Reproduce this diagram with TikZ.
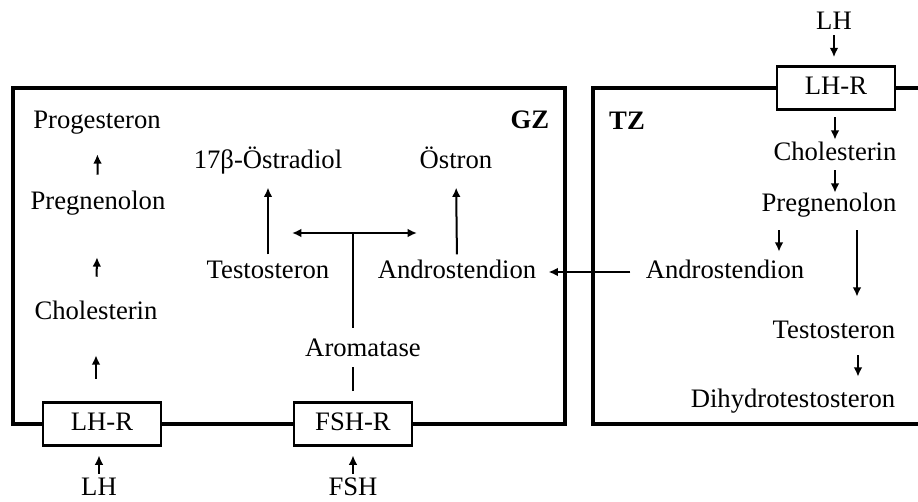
\documentclass[tikz,border=0pt]{standalone}
\usepackage{fontspec}
\setmainfont{Liberation Serif}
\usetikzlibrary{arrows.meta,positioning,calc}
\tikzset{
  txt/.style={inner sep=0pt, text height=14pt, text depth=4pt,
              font=\fontsize{20}{24}\selectfont},
  zone/.style={txt, font=\fontsize{20}{24}\selectfont\bfseries},
  recep/.style={txt, draw, line width=2.2pt, fill=white,
                minimum width=88.5pt, minimum height=32pt},
  wall/.style={line width=3pt},
  flow/.style={->, >={Latex[length=7pt,width=6.5pt]}, line width=1.5pt},
  bar/.style={line width=1.5pt},
}

\begin{document}
\begin{tikzpicture}[x=0.75pt, y=-0.75pt]
  \useasboundingbox (0,0) rectangle (918,502);
  % granulosa zone
  \node[txt] (gzProg) at (97,122) {Progesteron};
  \node[txt] (gzPreg) at (98,203) {Pregnenolon};
  \node[txt] (gzChol) at (96,313) {Cholesterin};
  \node[recep] (gzLHR) at (102,424) {LH-R};
  \node[txt, text depth=0pt] (gzLH) at (99,486) {LH};
  \node[recep] (gzFSHR) at (353,424) {FSH-R};
  \node[txt, text depth=0pt] (gzFSH) at (353,486) {FSH};
  \node[txt] (gzArom) at (363,350) {Aromatase};
  \node[txt] (gzTest) at (268,272) {Testosteron};
  \node[txt] (gzAndro) at (457,272) {Androstendion};
  \node[txt] (gzOest) at (268,162) {17β-Östradiol};
  \node[txt] (gzOestron) at (456,162) {Östron};
  \node[zone] (gzLabel) at (530,122) {GZ};
  \coordinate (gzJct) at (353,233);
  \coordinate (gzJctL) at (292,233);
  \coordinate (gzJctR) at (417,233);
  \draw[wall] (gzLHR.west) -| (13,88) -| (565,424) -- (gzFSHR.east);
  \draw[wall] (gzLHR.east) -- (gzFSHR.west);
  \draw[flow, shorten <=12pt, shorten >=15pt] (gzPreg.north) -- (gzProg.south);
  \draw[flow, shorten <=18pt, shorten >=31.5pt] (gzChol.north) -- (gzPreg.south);
  \draw[flow, shorten <=17pt, shorten >=22.5pt] (gzChol.south |- gzLHR.north) -- (gzChol.south);
  \draw[flow, shorten <=2pt, shorten >=6.5pt] (gzLH.north) -- (gzLH.north |- gzLHR.south);
  \draw[flow, shorten <=2pt, shorten >=6.5pt] (gzFSH.north) -- (gzFSHR.south);
  \draw[flow, shorten <=4pt, shorten >=10pt] (gzTest.north) -- (gzOest.south);
  \draw[flow, shorten <=4pt, shorten >=10pt] (gzAndro.north) -- (gzOestron.south);
  \draw[flow, <->] (gzJctL) -- (gzJctR);
  \draw[bar, shorten >=7.5pt] (gzJct) -- (gzJct |- gzArom.north);
  \draw[bar, shorten <=7.5pt, shorten >=3.75pt] (gzFSHR.north) -- (gzFSHR.north |- gzArom.south);
  % theca zone
  \node[txt] (tzLH) at (834,23) {LH};
  \node[recep] (tzLHR) at (836,88) {LH-R};
  \node[txt] (tzChol) at (835,154) {Cholesterin};
  \node[txt] (tzPreg) at (829,205) {Pregnenolon};
  \node[txt] (tzAndro) at (725,272) {Androstendion};
  \node[txt] (tzTest) at (834,332) {Testosteron};
  \node[txt] (tzDHT) at (793,401) {Dihydrotestosteron};
  \node[zone] (tzLabel) at (627,123) {TZ};
  \draw[wall] (tzLHR.west) -| (593,424) -- (918,424);
  \draw[wall] (tzLHR.east) -- (918,88);
  \draw[flow, shorten >=6pt] (tzLH.south) -- (tzLH.south |- tzLHR.north);
  \draw[flow, shorten <=5pt, shorten >=1.5pt] (tzChol.north |- tzLHR.south) -- (tzChol.north);
  \draw[flow, shorten <=3pt] (tzChol.south) -- (tzChol.south |- tzPreg.north);
  \draw[flow, shorten <=9.75pt, shorten >=6pt] ([xshift=-37.5pt]tzPreg.south) -- ([xshift=-37.5pt]tzPreg.south |- tzAndro.north);
  \draw[flow, shorten <=9.75pt, shorten >=17.25pt] ([xshift=21pt]tzPreg.south) -- ([xshift=21pt]tzPreg.south |- tzTest.north);
  \draw[flow, shorten <=8.25pt, shorten >=9pt] ([xshift=18pt]tzTest.south) -- ([xshift=18pt]tzTest.south |- tzDHT.north);
  \draw[flow, shorten <=11.25pt, shorten >=9pt] (tzAndro.west) -- (gzAndro.east);
\end{tikzpicture}
\end{document}
